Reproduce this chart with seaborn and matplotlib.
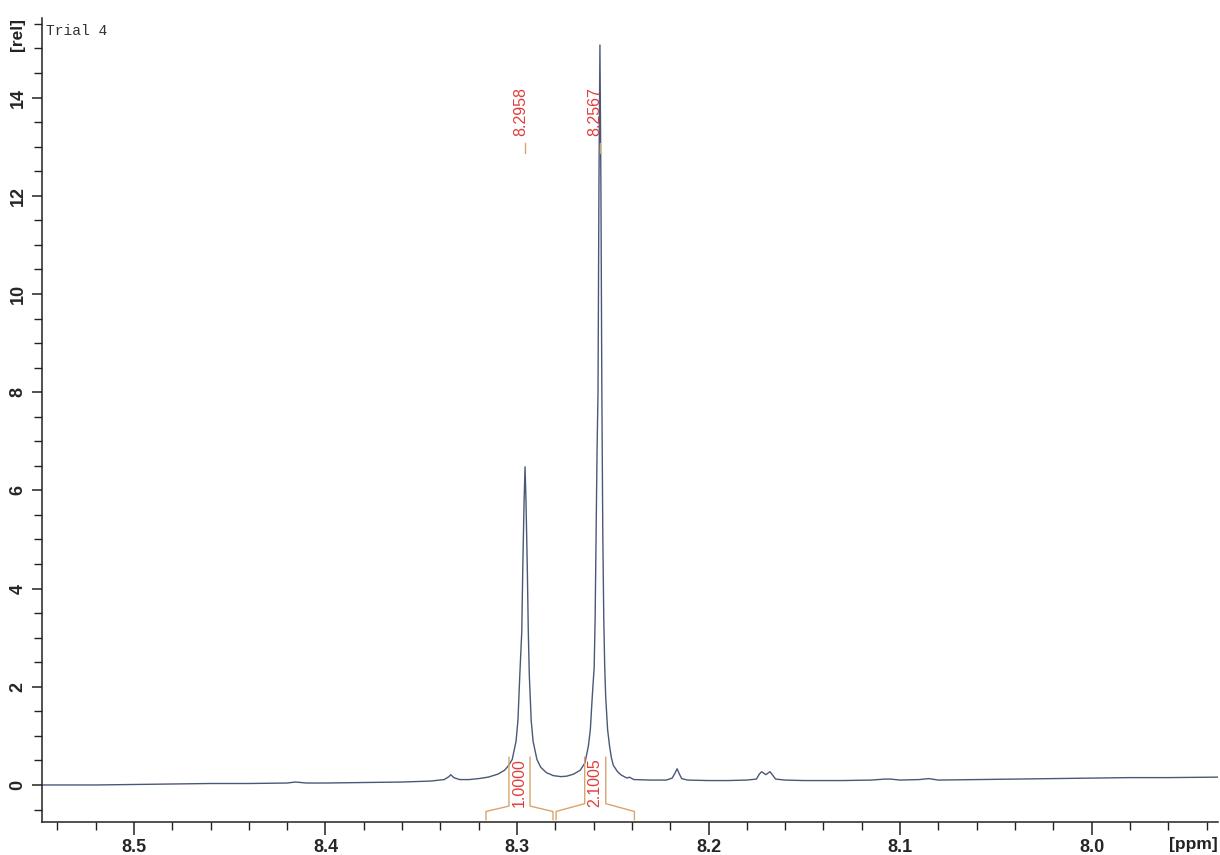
import numpy as np
import pandas as pd
import matplotlib
matplotlib.use("Agg")
import matplotlib.pyplot as plt
from matplotlib.ticker import MultipleLocator, FixedLocator
import seaborn as sns

# ---- data ----
ppm = [8.548, 8.52, 8.50, 8.48, 8.46, 8.44, 8.42, 8.4157, 8.41, 8.40, 8.38, 8.36,
       8.345, 8.338, 8.3355, 8.3346, 8.333, 8.330, 8.325, 8.32, 8.315, 8.31, 8.3065,
       8.3045, 8.3025, 8.3005, 8.2995, 8.2985, 8.2975, 8.2970, 8.2963, 8.2958,
       8.2953, 8.2946, 8.2941, 8.2936, 8.2926, 8.2916, 8.2896, 8.2876, 8.2846,
       8.281, 8.277, 8.274, 8.2705, 8.267, 8.2645, 8.2627, 8.2617, 8.2607, 8.2597,
       8.2592, 8.2587, 8.2582, 8.2577, 8.2572, 8.2567, 8.2562, 8.2557, 8.2552,
       8.2547, 8.2542, 8.2537, 8.2527, 8.2517, 8.2507, 8.2497, 8.2475, 8.2455,
       8.2425, 8.2414, 8.239, 8.230, 8.222, 8.219, 8.2175, 8.2164, 8.2152, 8.214,
       8.211, 8.20, 8.19, 8.18, 8.175, 8.1735, 8.1723, 8.1701, 8.1679, 8.1665,
       8.165, 8.16, 8.15, 8.13, 8.115, 8.108, 8.105, 8.10, 8.09, 8.085, 8.08, 8.06,
       8.04, 8.02, 8.00, 7.98, 7.96, 7.934]
intensity = [0.00, 0.00, 0.01, 0.02, 0.03, 0.03, 0.04, 0.06, 0.04, 0.04, 0.05, 0.06,
             0.08, 0.11, 0.17, 0.21, 0.15, 0.11, 0.11, 0.13, 0.16, 0.22, 0.30,
             0.39, 0.52, 0.89, 1.32, 2.27, 3.13, 4.37, 5.78, 6.48,
             5.78, 4.37, 3.13, 2.27, 1.32, 0.89, 0.52, 0.36, 0.25,
             0.19, 0.17, 0.18, 0.22, 0.30, 0.45, 0.80, 1.13, 1.80, 2.40,
             3.40, 5.10, 6.80, 8.00, 12.30, 15.07, 12.30, 8.00, 5.10,
             3.40, 2.40, 1.80, 1.13, 0.80, 0.55, 0.40, 0.27, 0.20,
             0.14, 0.16, 0.11, 0.10, 0.10, 0.14, 0.24, 0.33, 0.22, 0.13,
             0.10, 0.09, 0.09, 0.10, 0.12, 0.22, 0.27, 0.21, 0.27, 0.20,
             0.12, 0.10, 0.09, 0.09, 0.10, 0.12, 0.12, 0.10, 0.11, 0.13, 0.10, 0.11,
             0.12, 0.13, 0.14, 0.15, 0.15, 0.16]

peak_ppm = [8.2958, 8.2567]
peak_labels = ["8.2958", "8.2567"]
integral_regions = [(8.3162, 8.2812), (8.2796, 8.2387)]
integral_labels = ["1.0000", "2.1005"]
x_major = [8.5, 8.4, 8.3, 8.2, 8.1, 8.0]
y_major = [0, 2, 4, 6, 8, 10, 12, 14]

# ---- styling ----
sns.set_style("ticks")
plt.rcParams["font.family"] = ["Liberation Sans", "DejaVu Sans"]

line_color = "#4a5878"
red = "#e23c3c"
tan = "#d9a46c"

fig = plt.figure(figsize=(12.2, 8.55), dpi=100)
ax = fig.add_axes([42 / 1220, 33 / 855, 1176 / 1220, 804 / 855])

df = pd.DataFrame({"ppm": ppm, "rel": intensity})
sns.lineplot(data=df, x="ppm", y="rel", ax=ax, color=line_color, linewidth=1.0,
             estimator=None, sort=False)

ax.set_xlim(8.548, 7.934)
ax.set_ylim(-0.754, 15.62)
ax.set_xlabel("")
ax.set_ylabel("")

ax.xaxis.set_major_locator(FixedLocator(x_major))
ax.set_xticklabels([f"{v:.1f}" for v in x_major])
ax.xaxis.set_minor_locator(MultipleLocator(0.02))
ax.yaxis.set_major_locator(FixedLocator(y_major))
ax.set_yticklabels([str(v) for v in y_major])
ax.yaxis.set_minor_locator(MultipleLocator(0.5))

for lab in ax.get_xticklabels() + ax.get_yticklabels():
    lab.set_fontweight("bold")
    lab.set_fontsize(13)
for lab in ax.get_yticklabels():
    lab.set_rotation(90)
    lab.set_va("center")

ax.tick_params(axis="x", which="major", length=9, width=1.1, color="#222222", pad=3)
ax.tick_params(axis="x", which="minor", length=5.5, width=1.0, color="#222222")
ax.tick_params(axis="y", which="major", length=7, width=1.1, color="#222222", pad=4)
ax.tick_params(axis="y", which="minor", length=5.5, width=1.0, color="#222222")
sns.despine(ax=ax, top=True, right=True)
for s in ("left", "bottom"):
    ax.spines[s].set_color("#222222")
    ax.spines[s].set_linewidth(1.1)

# axis unit labels
ax.text(-0.021, 1.0, "[rel]", transform=ax.transAxes, rotation=90, ha="center",
        va="top", fontsize=12.5, fontweight="bold", color="#222222")
fig.text(0.998, 0.003, "[ppm]", ha="right", va="bottom", fontsize=12.5,
         fontweight="bold", color="#222222")

# title text
ax.text(0.003, 0.993, "Trial 4", transform=ax.transAxes, ha="left", va="top",
        fontsize=10.5, family=["Liberation Mono", "DejaVu Sans Mono"], color="#333333")

# peak labels
for p, lab in zip(peak_ppm, peak_labels):
    ax.plot([p, p], [12.87, 13.07], color=tan, linewidth=1.0)
    ax.text(p + 0.0025, 13.22, lab, rotation=90, ha="center", va="bottom",
            fontsize=11.5, color=red)

# integral brackets
dx = 0.0055
base, leg, top = -0.71, -0.54, 0.57
inner = [-0.43, -0.38]
for (a, b), lab, r in zip(integral_regions, integral_labels, inner):
    c = (a + b) / 2
    ax.plot([a, a, c + dx, c + dx], [base, leg, r, top], color=tan, linewidth=1.0)
    ax.plot([c - dx, c - dx, b, b], [top, r, leg, base], color=tan, linewidth=1.0)
    ax.text(c, 0.05, lab, rotation=90, ha="center", va="center", fontsize=11.5,
            color=red)

fig.savefig("out.png", dpi=100, facecolor="white")
